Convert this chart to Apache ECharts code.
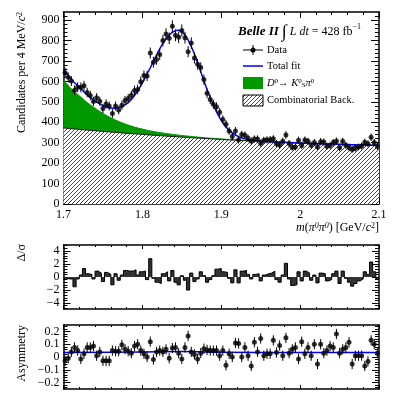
<!DOCTYPE html>
<html><head><meta charset="utf-8">
<script src="https://cdn.jsdelivr.net/npm/echarts@6.0.0/dist/echarts.min.js"></script>
<style>html,body{margin:0;padding:0;background:#fff;}#chart{width:399px;height:402px;}</style>
</head><body><div id="chart"></div>
<script>
// ---------------- data ----------------
const binCenters = [1.702,1.706,1.710,1.714,1.718,1.722,1.726,1.730,1.734,1.738,1.742,1.746,1.750,1.754,1.758,1.762,1.766,1.770,1.774,1.778,1.782,1.786,1.790,1.794,1.798,1.802,1.806,1.810,1.814,1.818,1.822,1.826,1.830,1.834,1.838,1.842,1.846,1.850,1.854,1.858,1.862,1.866,1.870,1.874,1.878,1.882,1.886,1.890,1.894,1.898,1.902,1.906,1.910,1.914,1.918,1.922,1.926,1.930,1.934,1.938,1.942,1.946,1.950,1.954,1.958,1.962,1.966,1.970,1.974,1.978,1.982,1.986,1.990,1.994,1.998,2.002,2.006,2.010,2.014,2.018,2.022,2.026,2.030,2.034,2.038,2.042,2.046,2.050,2.054,2.058,2.062,2.066,2.070,2.074,2.078,2.082,2.086,2.090,2.094,2.098];
const counts = [642,620,602,557,572,571,579,546,531,502,520,503,467,490,480,443,480,460,483,507,516,532,556,561,599,629,627,739,694,708,732,800,832,811,870,826,816,850,814,746,788,715,684,668,609,542,512,488,476,449,414,391,357,331,358,314,340,337,322,308,318,318,298,312,314,315,319,296,289,307,338,296,278,279,312,287,313,307,288,301,280,305,303,283,286,301,308,275,307,288,277,267,273,279,284,302,295,327,301,282];
const pulls = [-0.2,-0.3,-0.3,-1.5,-0.3,0.3,1.3,0.5,0.4,-0.3,0.9,0.6,-0.7,0.7,0.4,-1.2,0.5,-0.5,0.3,1.0,0.9,0.9,1.1,0.3,0.8,0.9,-0.4,2.8,-0.2,-0.8,-1.0,0.5,0.8,-0.6,1.0,-0.8,-1.2,0.2,-0.5,-2.0,0.6,-0.7,-0.3,0.8,0.2,-0.8,-0.4,0.2,1.2,1.3,0.8,0.7,-0.2,-0.9,1.1,-0.9,0.9,1.0,0.4,-0.3,0.4,0.5,-0.6,0.3,0.5,0.6,0.9,-0.4,-0.8,0.3,2.1,-0.3,-1.3,-1.2,0.8,-0.6,0.9,0.6,-0.5,0.3,-0.9,0.6,0.5,-0.6,-0.4,0.5,0.9,-1.0,0.9,-0.2,-0.8,-1.4,-1.0,-0.6,-0.3,0.8,0.4,2.3,0.8,-0.3];
const asymmetry = [-0.03,-0.01,0.04,0.075,0.05,-0.015,0.025,0.075,0.075,0.085,0.01,0.04,-0.03,-0.03,-0.03,0.05,0.045,0.045,0.095,0.06,0.045,0.03,0.085,0.1,0.05,0.025,0.0,0.12,-0.02,0.04,0.05,0.04,0.06,-0.01,0.07,0.075,0.03,-0.015,0.075,0.165,0.04,0.02,-0.015,0.03,0.065,0.055,0.05,0.05,0.05,0.01,0.05,-0.065,0.025,0.0,0.11,0.105,0.0,0.075,0.01,-0.07,0.115,0.04,0.145,0.01,0.025,0.025,0.13,0.035,0.09,0.01,0.15,0.03,0.06,0.075,-0.015,0.12,0.025,0.075,0.01,0.1,-0.055,0.1,0.03,0.05,0.085,0.075,0.18,0.03,0.06,0.075,0.115,-0.055,0.01,0.01,0.01,-0.07,-0.035,0.13,0.1,0.03];
const asymError = 0.04;

const rangeEnds = [1.700, 2.100];
const totalFit = [657,647,628,609,594,579,564,549,534,522,509,499,490,482,475,471,469,469,471,476,485,496,512,531,554,580,607,637,667,699,730,760,786,809,828,841,849,851,844,828,803,771,734,692,648,604,561,521,484,451,422,398,377,361,348,338,330,323.5,319,315.4,313,311,309.5,308,307,305.7,304.6,303.8,303,302.6,302.2,301.6,300.8,300,299.4,298.4,297.8,297.4,297,296.6,296.2,295.6,294.8,294,293.6,293.2,292.8,292.4,292,291.6,291.2,290.8,290.4,290,289.6,289.2,288.8,288.4,288,287.6,287.2,287];

const compX = [1.70,1.71,1.72,1.73,1.74,1.75,1.76,1.77,1.78,1.79,1.80,1.81,1.82,1.83,1.84,1.85,1.86,1.87,1.88,1.89,1.90,1.91,1.92,1.93,1.94,1.95,1.96,1.97,1.98,1.99,2.00,2.01,2.02,2.03,2.04,2.05,2.06,2.07,2.08,2.09,2.10];
const greenTop = [607,563.6,530.2,496.9,468.7,443.5,422.4,404.4,389.4,376.5,366.7,357.9,351.2,345.1,340,335.5,331.6,327.7,324.4,321.3,318.6,316,313.5,311.2,309.1,307.1,305.2,303.4,301.6,300,298.4,296.9,295.6,294.3,293.1,291.9,290.9,289.8,288.9,288.1,287.1];
const combBkg = [372,368.6,365.2,361.9,358.7,355.5,352.4,349.4,346.4,343.5,340.7,337.9,335.2,332.6,330,327.5,325.1,322.7,320.4,318.3,316.1,314,312,310,308.1,306.3,304.6,302.9,301.2,299.7,298.2,296.8,295.5,294.2,293,291.8,290.8,289.7,288.8,288,287];

const asymFitX = [1.70,1.80,1.85,1.90,2.00,2.10];
const asymFit = [0.035,0.039,0.042,0.038,0.035,0.035];

const xMajorTicks = [1.7,1.8,1.9,2.0,2.1];
const mainYLabels = [0,100,200,300,400,500,600,700,800,900];
const pullYLabels = [-4,-2,0,2,4];
const asymYLabels = [-0.2,-0.1,0,0.1,0.2];

// ---------------- helpers ----------------
const FONT = '"Liberation Serif","DejaVu Serif",serif';
function steps(a, b, s) { const r = []; for (let v = a; v <= b + 1e-9; v += s) r.push(Math.round(v * 10000) / 10000); return r; }
const xMinor = steps(1.72, 2.08, 0.02);
const mainYMinor = steps(20, 920, 20);
const pullYMinor = steps(-4.8, 4.8, 0.4);
const asymYMinor = steps(-0.24, 0.24, 0.02);
const minusFmt = v => String(v).replace('-', '\u2212');

function hatch() {
  const c = document.createElement('canvas'); c.width = 4; c.height = 4;
  const g = c.getContext('2d');
  g.fillStyle = '#fff'; g.fillRect(0, 0, 4, 4);
  g.strokeStyle = '#333'; g.lineWidth = 0.9;
  g.beginPath(); g.moveTo(-1, 5); g.lineTo(5, -1); g.stroke();
  return c;
}
const hatchPattern = { image: hatch(), repeat: 'repeat' };

function xAx(grid, pos, ticks, len, label, line) {
  return { type: 'value', gridIndex: grid, position: pos, min: 1.7, max: 2.1,
    axisLine: { show: line, onZero: false, lineStyle: { color: '#000', width: 1.5 } },
    axisTick: { show: true, inside: true, length: len, customValues: ticks, lineStyle: { color: '#000', width: 1 } },
    axisLabel: { show: label, customValues: xMajorTicks, margin: 5, color: '#000', fontFamily: FONT, fontSize: 12 },
    splitLine: { show: false } };
}
function yAx(grid, pos, min, max, ticks, len, labels, line) {
  return { type: 'value', gridIndex: grid, position: pos, min: min, max: max,
    axisLine: { show: line, onZero: false, lineStyle: { color: '#000', width: 1.5 } },
    axisTick: { show: true, inside: true, length: len, customValues: ticks, lineStyle: { color: '#000', width: 1 } },
    axisLabel: labels ? { show: true, customValues: labels, margin: 4, color: '#000', fontFamily: FONT, fontSize: 12, formatter: minusFmt } : { show: false },
    splitLine: { show: false } };
}

const xAxes = [], yAxes = [];
const panels = [
  { min: 0, max: 940, labels: mainYLabels, minor: mainYMinor, ymaj: 8, ymin: 4, xmaj: 6, xmin: 3, xl: true },
  { min: -4.9, max: 4.9, labels: pullYLabels, minor: pullYMinor, ymaj: 7, ymin: 4, xmaj: 4, xmin: 2, xl: false },
  { min: -0.25, max: 0.25, labels: asymYLabels, minor: asymYMinor, ymaj: 7, ymin: 4, xmaj: 4, xmin: 2, xl: false }
];
panels.forEach((p, g) => {
  xAxes.push(xAx(g, 'bottom', xMajorTicks, p.xmaj, p.xl, true));
  xAxes.push(xAx(g, 'bottom', xMinor, p.xmin, false, false));
  xAxes.push(xAx(g, 'top', xMajorTicks, p.xmaj, false, true));
  xAxes.push(xAx(g, 'top', xMinor, p.xmin, false, false));
  yAxes.push(yAx(g, 'left', p.min, p.max, p.labels, p.ymaj, p.labels, true));
  yAxes.push(yAx(g, 'left', p.min, p.max, p.minor, p.ymin, null, false));
  yAxes.push(yAx(g, 'right', p.min, p.max, p.labels, p.ymaj, null, true));
  yAxes.push(yAx(g, 'right', p.min, p.max, p.minor, p.ymin, null, false));
});

const pairs = (xs, ys) => xs.map((x, i) => [x, ys[i]]);
const totalFitX = [rangeEnds[0]].concat(binCenters, [rangeEnds[1]]);
// histogram step line for pulls: bin centres plus the range edges (same value as the edge bins)
const pullStep = [[rangeEnds[0], pulls[0]]].concat(pairs(binCenters, pulls), [[rangeEnds[1], pulls[pulls.length - 1]]]);

function errBar(params, api) {
  const a = api.coord([api.value(0), api.value(1)]);
  const b = api.coord([api.value(0), api.value(2)]);
  return { type: 'line', shape: { x1: a[0], y1: a[1], x2: b[0], y2: b[1] }, style: { stroke: '#000', lineWidth: 1 } };
}

const series = [
  { type: 'line', xAxisIndex: 0, yAxisIndex: 0, data: pairs(compX, greenTop), smooth: 0.3, symbol: 'none',
    lineStyle: { color: '#009a00', width: 1 }, areaStyle: { color: '#009a00', opacity: 1 }, z: 1 },
  { type: 'line', xAxisIndex: 0, yAxisIndex: 0, data: pairs(compX, combBkg), smooth: 0.3, symbol: 'none',
    lineStyle: { color: '#1a1a1a', width: 1 }, areaStyle: { color: hatchPattern, opacity: 1 }, z: 2 },
  { type: 'line', xAxisIndex: 0, yAxisIndex: 0, data: pairs(totalFitX, totalFit), symbol: 'none',
    lineStyle: { color: '#0000ff', width: 1.5 }, z: 3 },
  { type: 'custom', xAxisIndex: 0, yAxisIndex: 0, renderItem: errBar, encode: { x: 0, y: [1, 2] },
    data: binCenters.map((x, i) => [x, counts[i] - Math.sqrt(counts[i]), counts[i] + Math.sqrt(counts[i])]), z: 4 },
  { type: 'scatter', xAxisIndex: 0, yAxisIndex: 0, data: pairs(binCenters, counts), symbol: 'circle', symbolSize: 5,
    itemStyle: { color: '#000' }, z: 5 },
  { type: 'line', xAxisIndex: 4, yAxisIndex: 4, data: pullStep, step: 'middle', symbol: 'none',
    lineStyle: { color: '#000', width: 1 }, areaStyle: { color: '#333', opacity: 1, origin: 0 }, z: 3 },
  { type: 'line', xAxisIndex: 8, yAxisIndex: 8, data: pairs(asymFitX, asymFit), smooth: 0.4, symbol: 'none',
    lineStyle: { color: '#0000ff', width: 1.5 }, z: 2 },
  { type: 'custom', xAxisIndex: 8, yAxisIndex: 8, renderItem: errBar, encode: { x: 0, y: [1, 2] },
    data: binCenters.map((x, i) => [x, asymmetry[i] - asymError, asymmetry[i] + asymError]), z: 4 },
  { type: 'scatter', xAxisIndex: 8, yAxisIndex: 8, data: pairs(binCenters, asymmetry), symbol: 'circle', symbolSize: 5,
    itemStyle: { color: '#000' }, z: 5 }
];

function rt(size) {
  return {
    i: { fontFamily: FONT, fontSize: size, fontStyle: 'italic', fill: '#000' },
    b: { fontFamily: FONT, fontSize: size + 1, fontStyle: 'italic', fontWeight: 'bold', fill: '#000' },
    n: { fontFamily: FONT, fontSize: size, fill: '#000' },
    int: { fontFamily: FONT, fontSize: size + 6, fill: '#000' },
    s: { fontFamily: FONT, fontSize: Math.round(size * 0.65), fill: '#000', verticalAlign: 'top' },
    si: { fontFamily: FONT, fontSize: Math.round(size * 0.65), fontStyle: 'italic', fill: '#000', verticalAlign: 'top' },
    u: { fontFamily: FONT, fontSize: Math.round(size * 0.65), fill: '#000', verticalAlign: 'bottom' }
  };
}
function txt(x, y, text, size, align, rot) {
  return { type: 'text', x: x, y: y, rotation: rot || 0, z: 100,
    style: { text: text, fontFamily: FONT, fontSize: size, fill: '#000', align: align || 'left', verticalAlign: 'middle', rich: rt(size) } };
}

const graphics = [
  txt(22, 12, '{n|Candidates per 4 MeV/}{i|c}{s|2}', 12, 'right', Math.PI / 2),
  txt(379, 228, '{i|m}{n|(}{i|π}{si|0}{i|π}{si|0}{n|) [GeV/}{i|c}{s|2}{n|]}', 12, 'right'),
  txt(22, 244, '{n|Δ/σ}', 12, 'right', Math.PI / 2),
  txt(22, 325, '{n|Asymmetry}', 12, 'right', Math.PI / 2),
  txt(238, 32, '{b|Belle II} {int|∫} {i|L dt} {n|= 428 fb}{s|−1}', 12, 'left'),
  // legend
  { type: 'line', shape: { x1: 243, y1: 50, x2: 263, y2: 50 }, style: { stroke: '#000', lineWidth: 1 }, z: 100 },
  { type: 'line', shape: { x1: 253, y1: 45, x2: 253, y2: 55 }, style: { stroke: '#000', lineWidth: 1 }, z: 100 },
  { type: 'circle', shape: { cx: 253, cy: 50, r: 2.5 }, style: { fill: '#000' }, z: 100 },
  txt(267, 50, '{n|Data}', 10.5),
  { type: 'line', shape: { x1: 243, y1: 66, x2: 263, y2: 66 }, style: { stroke: '#0000ff', lineWidth: 1.5 }, z: 100 },
  txt(267, 66, '{n|Total fit}', 10.5),
  { type: 'rect', shape: { x: 243, y: 77, width: 20, height: 12 }, style: { fill: '#009a00' }, z: 100 },
  txt(267, 83, '{i|D}{s|0}{n|→ }{i|K}{s|0}{u|S}{i|π}{s|0}', 10.5),
  { type: 'rect', shape: { x: 243, y: 95, width: 20, height: 11 }, style: { fill: hatchPattern, stroke: '#000', lineWidth: 1 }, z: 100 },
  txt(267, 100.5, '{n|Combinatorial Back.}', 10.5)
];

const chart = echarts.init(document.getElementById('chart'), null, { renderer: 'canvas' });
chart.setOption({
  animation: false,
  backgroundColor: '#fff',
  grid: [
    { left: 63.5, top: 12, width: 315.5, height: 192, containLabel: false, outerBoundsMode: 'none' },
    { left: 63.5, top: 245, width: 315.5, height: 64, containLabel: false, outerBoundsMode: 'none' },
    { left: 63.5, top: 325, width: 315.5, height: 64, containLabel: false, outerBoundsMode: 'none' }
  ],
  xAxis: xAxes,
  yAxis: yAxes,
  series: series,
  graphic: graphics
});
</script>
</body></html>
